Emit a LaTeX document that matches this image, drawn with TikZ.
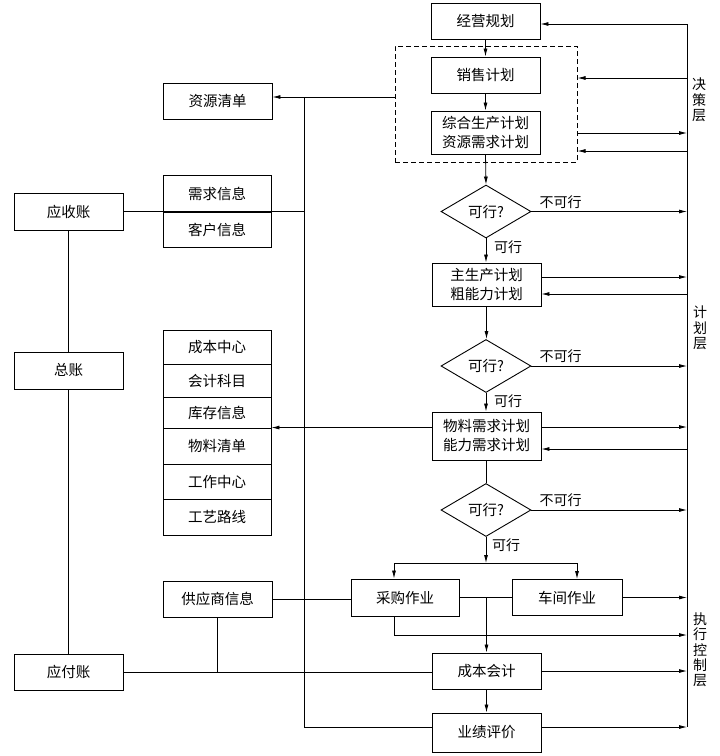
\documentclass[tikz,border=0pt]{standalone}
\usepackage{fontspec}
\setmainfont{Noto Sans CJK SC}
\usetikzlibrary{arrows.meta,shapes.geometric}
\begin{document}
\begin{tikzpicture}[x=1pt,y=-1pt,
  box/.style={draw, line width=0.9pt, inner sep=0pt, align=center,
    minimum width=109pt, minimum height=36pt, font=\fontsize{14.5}{19}\selectfont},
  dia/.style={draw, diamond, aspect=1.7, inner sep=0pt, line width=0.9pt,
    minimum width=90pt, minimum height=53pt, font=\fontsize{14.5}{17}\selectfont},
  dashbox/.style={draw, line width=1pt, dash pattern=on 5pt off 3pt, inner sep=0pt},
  ln/.style={line width=0.8pt},
  arr/.style={ln, -{Latex[length=8pt,width=4pt]}},
  lbl/.style={inner sep=0pt, font=\fontsize{14}{17}\selectfont},
  vlbl/.style={inner sep=0pt, align=center, font=\fontsize{14}{15.3}\selectfont}]
\useasboundingbox (0,0) rectangle (720,756);

% central column
\node[box] (jy) at (485.5,21) {经营规划};
\node[box] (xs) at (485.5,75) {销售计划};
\node[box, minimum height=43pt] (zh) at (485.5,132.5) {综合生产计划\\资源需求计划};
\node[dashbox, minimum width=182pt, minimum height=116pt] (dash) at (486,104) {};
\node[dia] (d1) at (486,211.5) {可行?};
\node[box, minimum height=43pt] (zs) at (486.5,284.5) {主生产计划\\粗能力计划};
\node[dia] (d2) at (486,366) {可行?};
\node[box, minimum height=48pt] (wl) at (486.5,436) {物料需求计划\\能力需求计划};
\node[dia] (d3) at (486,510) {可行?};
\node[box, minimum width=108pt, minimum height=37pt] (cg) at (405,597.5) {采购作业};
\node[box, minimum width=110pt] (cj) at (567,597.5) {车间作业};
\node[box] (cb) at (486.5,671) {成本会计};
\node[box, minimum height=39pt] (yj) at (486.5,732.5) {业绩评价};

% left columns
\node[box] (zy) at (217.5,101) {资源清单};
\node[box, minimum width=108pt, minimum height=37pt] (xq) at (217,193.5) {需求信息};
\node[box, minimum width=108pt, minimum height=35pt] (kh) at (217,229.5) {客户信息};
\node[box, minimum width=108pt, minimum height=34pt] (cbzx) at (217,347) {成本中心};
\node[box, minimum width=108pt, minimum height=33pt] (kjkm) at (217,380.5) {会计科目};
\node[box, minimum width=108pt, minimum height=31pt] (kcxx) at (217,412.5) {库存信息};
\node[box, minimum width=108pt, minimum height=36pt] (wlqd) at (217,446) {物料清单};
\node[box, minimum width=108pt, minimum height=35pt] (gzzx) at (217,481.5) {工作中心};
\node[box, minimum width=108pt, minimum height=36pt] (gylx) at (217,517) {工艺路线};
\node[box] (gys) at (217.5,599) {供应商信息};
\node[box, minimum height=37pt] (ys) at (68.5,211.5) {应收账};
\node[box, minimum height=37pt] (zz) at (68.5,370.5) {总账};
\node[box] (yf) at (68.5,672) {应付账};

% right bus
\coordinate (r0) at (687,24);
\coordinate (r1) at (687,78);
\coordinate (r2) at (687,133);
\coordinate (r3) at (687,151);
\coordinate (r5) at (687,277);
\coordinate (r6) at (687,294);
\coordinate (r8) at (687,427);
\coordinate (r9) at (687,449);
\coordinate (r12) at (687,635);
\coordinate (r14) at (687,727);
\draw[ln] (r0) -- (r14);

\draw[arr] (r0) -- (r0 -| jy.east);
\draw[arr] (r1) -- (r1 -| dash.east);
\draw[arr] (r2 -| dash.east) -- (r2);
\draw[arr] (r3) -- (r3 -| dash.east);
\draw[arr] (d1.east) -- (d1.east -| r0);
\draw[arr] (r5 -| zs.east) -- (r5);
\draw[arr] (r6) -- (r6 -| zs.east);
\draw[arr] (d2.east) -- (d2.east -| r0);
\draw[arr] (r8 -| wl.east) -- (r8);
\draw[arr] (r9) -- (r9 -| wl.east);
\draw[arr] (d3.east) -- (d3.east -| r0);
\draw[arr] (cj.east) -- (cj.east -| r0);
\draw[arr] (cb.east) -- (cb.east -| r0);
\draw[arr] (r14 -| yj.east) -- (r14);

% labels on diamonds
\node[lbl, anchor=south west] at ([xshift=8pt,yshift=3pt]d1.east) {不可行};
\node[lbl, anchor=south west] at ([xshift=8pt,yshift=3pt]d2.east) {不可行};
\node[lbl, anchor=south west] at ([xshift=8pt,yshift=3pt]d3.east) {不可行};
\node[lbl, anchor=north west] at ([xshift=8pt,yshift=-2pt]d1.south) {可行};
\node[lbl, anchor=north west] at ([xshift=8pt,yshift=-2pt]d2.south) {可行};
\node[lbl, anchor=north west] at ([xshift=6pt,yshift=-2pt]d3.south) {可行};

% central flow
\draw[arr] (jy.south) -- (xs.north);
\draw[arr] (xs.south) -- (zh.north);
\draw[arr] (zh.south) -- (d1.north);
\draw[arr] (d1.south) -- (d1.south |- zs.north);
\draw[arr] (zs.south) -- (zs.south |- d2.north);
\draw[arr] (d2.south) -- (d2.south |- wl.north);
\draw[ln] (wl.south) -- (wl.south |- d3.north);
\coordinate (spL) at (394,563);
\coordinate (spR) at (577,563);
\draw[arr] (d3.south) -- (d3.south |- spL);
\draw[ln] (spL) -- (spR);
\draw[arr] (spL) -- (spL |- cg.north);
\draw[arr] (spR) -- (spR |- cj.north);
\draw[ln] (cg.east) -- (cg.east -| cj.west);
\coordinate (mj) at (cg.east -| cb.north);
\draw[arr] (mj) -- (cb.north);
\draw[arr] (spL |- cg.south) -- (spL |- r12) -- (r12);
\draw[arr] (cb.south) -- (yj.north);

% left side connections
\coordinate (vT) at (304,97);
\coordinate (vB) at (304,727);
\draw[arr] (vT -| dash.west) -- (vT -| zy.east);
\draw[ln] (vT) -- (vB) -- (vB -| yj.west);
\draw[ln] (ys.east) -- (ys.east -| vT);
\draw[ln] (ys.south) -- (zz.north);
\draw[ln] (zz.south) -- (yf.north);
\draw[arr] (wlqd.north -| wl.west) -- (wlqd.north -| wlqd.east);
\draw[ln] (gys.east) -- (gys.east -| cg.west);
\draw[ln] (yf.east) -- (yf.east -| cb.west);
\draw[ln] (gys.south) -- (gys.south |- yf.east);

% layer labels
\node[vlbl] (lv1) at (699,100) {决\\策\\层};
\node[vlbl] (lv2) at (700,328) {计\\划\\层};
\node[vlbl] (lv3) at (700,650) {执\\行\\控\\制\\层};
\end{tikzpicture}
\end{document}
